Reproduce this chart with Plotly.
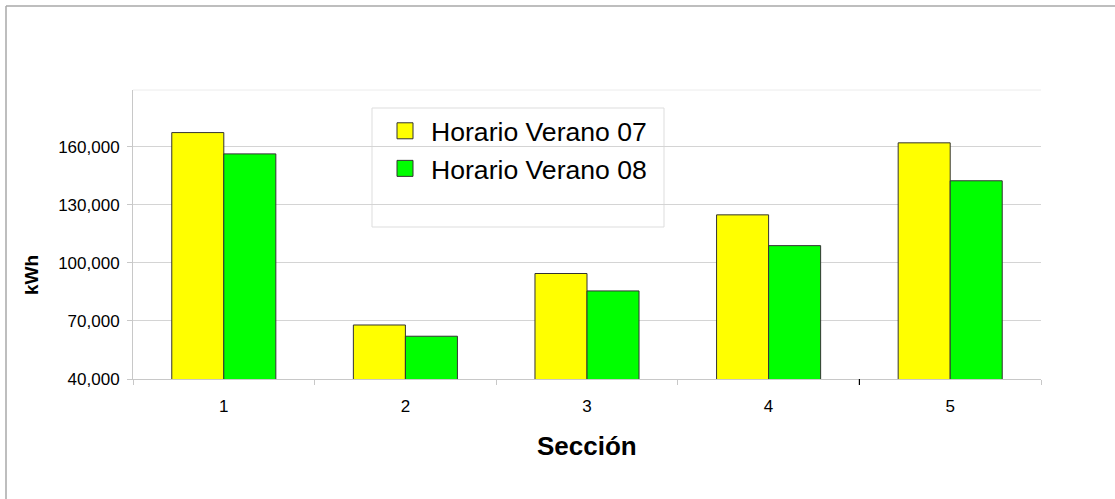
import plotly.graph_objects as go

secciones = ["1", "2", "3", "4", "5"]
verano_07 = [167300, 67900, 94500, 124800, 162000]
verano_08 = [156300, 62100, 85500, 108900, 142400]
tick_vals = [40000, 70000, 100000, 130000, 160000]
tick_text = ["40,000", "70,000", "100,000", "130,000", "160,000"]
series_names = ["Horario Verano 07", "Horario Verano 08"]

W, H = 1115, 499
L, R, T, B = 133, 74, 90, 120
PW, PH = W - L - R, H - T - B

def px(x):
    return (x - L) / PW

def py(y):
    return (H - B - y) / PH

FONT = "Liberation Sans, Arial, sans-serif"
COLORS = ["#FFFF00", "#00FF00"]
EDGE = "#333333"

fig = go.Figure()
for name, vals, col, grp in zip(series_names, [verano_07, verano_08], COLORS, ["a", "b"]):
    fig.add_trace(go.Bar(
        x=secciones, y=vals, name=name,
        marker=dict(color=col, line=dict(color=EDGE, width=1)),
        legendgroup=grp, showlegend=False,
    ))
for name, col, grp in zip(series_names, COLORS, ["a", "b"]):
    fig.add_trace(go.Scatter(
        x=[None], y=[None], mode="markers", name=name,
        marker=dict(symbol="square", size=21, color=col, line=dict(color=EDGE, width=1)),
        legendgroup=grp, showlegend=True, hoverinfo="skip",
    ))

shapes = [
    dict(type="line", xref="paper", yref="paper", x0=px(6), x1=px(6), y0=py(6), y1=py(H + 5),
         line=dict(color="#a8a8a8", width=1.5)),
    dict(type="line", xref="paper", yref="paper", x0=px(6), x1=px(W + 5), y0=py(6), y1=py(6),
         line=dict(color="#a8a8a8", width=1.5)),
    dict(type="line", xref="paper", yref="paper", x0=0, x1=1, y0=1, y1=1,
         line=dict(color="#ececec", width=1)),
    dict(type="rect", xref="paper", yref="paper", x0=px(372), x1=px(664), y0=py(227), y1=py(108),
         line=dict(color="#dddddd", width=1), fillcolor="white", layer="below"),
    dict(type="line", xref="x", yref="paper", x0=3.5, x1=3.5, y0=0, y1=py(H - B + 6),
         line=dict(color="#000000", width=1.2)),
]

annotations = [
    dict(text="<b>Sección</b>", xref="paper", yref="paper", x=px(587), y=py(446),
         xanchor="center", yanchor="middle", showarrow=False,
         font=dict(family=FONT, size=26, color="#000000")),
    dict(text="<b>kWh</b>", xref="paper", yref="paper", x=px(31), y=py(275),
         xanchor="center", yanchor="middle", showarrow=False, textangle=-90,
         font=dict(family=FONT, size=19, color="#000000")),
]

fig.update_layout(
    width=W, height=H,
    margin=dict(l=L, r=R, t=T, b=B),
    paper_bgcolor="white", plot_bgcolor="white",
    font=dict(family=FONT, color="#000000"),
    barmode="group", bargap=0.427, bargroupgap=0,
    showlegend=True,
    legend=dict(
        x=px(379), y=py(107), xanchor="left", yanchor="top",
        bgcolor="rgba(0,0,0,0)", borderwidth=0,
        font=dict(family=FONT, size=26.6, color="#000000"),
        tracegroupgap=0, itemsizing="trace", itemwidth=42,
    ),
    shapes=shapes,
    annotations=annotations,
)

fig.update_xaxes(
    type="category", tickson="boundaries",
    showline=True, linecolor="#c8c8c8", linewidth=1,
    ticks="outside", ticklen=5, tickcolor="#c8c8c8",
    showgrid=False, zeroline=False,
    tickfont=dict(family=FONT, size=17, color="#000000"),
    ticklabelstandoff=12,
)
fig.update_yaxes(
    range=[40000, 189300],
    tickvals=tick_vals, ticktext=tick_text,
    showline=True, linecolor="#c8c8c8", linewidth=1,
    ticks="outside", ticklen=5, tickcolor="#c8c8c8",
    showgrid=True, gridcolor="#d4d4d4", gridwidth=1,
    zeroline=False,
    tickfont=dict(family=FONT, size=17, color="#000000"),
    ticklabelstandoff=4,
)

fig.write_html(
    "out.html",
    config={"displayModeBar": False},
    post_script="document.body.style.margin='0';document.body.style.padding='0';",
)
